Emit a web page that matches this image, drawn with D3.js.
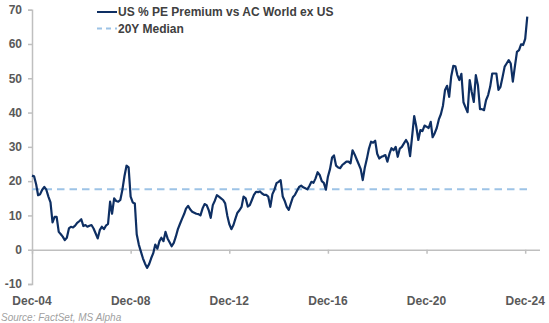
<!DOCTYPE html>
<html>
<head>
<meta charset="utf-8">
<script src="https://cdn.jsdelivr.net/npm/d3@7/dist/d3.min.js"></script>
<style>
  html, body { margin: 0; padding: 0; background: #ffffff; }
  svg { display: block; font-family: Arial, "Liberation Sans", sans-serif; }
</style>
</head>
<body>
<svg id="chart" width="549" height="323"></svg>
<script>
// Monthly US forward PE premium vs MSCI AC World ex US (%), Dec-2004 .. Dec-2024
const firstMonth = new Date(2004, 11, 1);
const premium = [
  21.6, 21.4, 19.0, 15.9, 16.2, 17.5, 18.3, 17.5, 15.5, 13.8,
   8.0,  9.6,  9.6,  5.2,  4.5,  3.8,  2.8,  3.5,  6.2,  6.7,
   6.5,  7.0,  7.8,  8.3,  8.9,  6.9,  7.2,  6.7,  7.0,  7.2,
   6.2,  4.8,  3.3,  5.7,  6.7,  6.0,  7.0,  7.5, 14.0, 10.5,
  15.0, 14.2, 14.0, 14.5, 17.5, 21.5, 24.5, 24.0, 15.5, 13.8,
  13.5,  4.5,  1.5, -0.5, -2.5, -4.0, -5.3, -4.2, -2.5, -1.0,
   1.5,  0.3,  2.5,  3.5,  2.5,  5.2,  3.3,  2.2,  1.0,  2.0,
   3.8,  6.0,  7.5,  9.0, 10.4, 12.0, 12.8, 11.8, 11.1, 10.8,
  10.5, 10.4, 10.0, 12.0, 13.3, 13.0, 11.5,  9.3, 13.0, 14.3,
  15.9, 15.5, 15.0, 14.5, 13.5, 10.0,  7.5,  6.0,  7.2,  9.0,
  10.8, 11.5, 12.5, 15.5, 15.0, 12.6, 13.0, 14.5, 16.0, 16.9,
  16.8, 17.0, 16.4, 16.0, 16.0, 15.5, 12.5, 16.2, 17.5, 19.4,
  19.8, 20.3, 15.5, 14.3, 12.5, 11.6, 13.5, 15.3, 16.0, 17.2,
  18.3, 18.7, 18.2, 17.9, 17.6, 18.6, 19.8, 19.5, 20.8, 22.6,
  21.8, 20.0, 19.5, 17.5, 21.3, 23.5, 26.9, 27.5, 24.5, 24.0,
  23.8, 24.7, 25.2, 25.7, 25.7, 25.2, 29.0, 27.8, 26.3, 25.0,
  23.5, 20.3, 24.0, 26.5, 29.5, 31.5, 31.2, 31.8, 28.0, 26.6,
  27.1, 27.3, 27.6, 25.7, 28.0, 29.6, 29.0, 30.0, 27.1, 29.5,
  30.0, 31.0, 32.0, 31.0, 27.3, 33.0, 39.0, 36.0, 32.0, 34.9,
  34.6, 36.2, 35.9, 35.5, 37.3, 32.8, 34.0, 35.5, 38.0, 39.5,
  42.0, 46.6, 47.8, 44.6, 50.5, 53.6, 53.5, 51.0, 49.5, 51.3,
  43.0, 41.5, 40.1, 49.5, 46.0, 43.1, 50.9, 48.0, 41.0, 41.0,
  40.7, 43.6, 45.1, 47.5, 51.4, 51.4, 51.4, 46.6, 47.5, 50.4,
  53.4, 54.3, 55.3, 54.3, 49.0, 53.4, 57.7, 58.2, 59.9, 59.7,
  61.5, 68.0
];
const medianValue = 17.6;
const yTicks = [-10, 0, 10, 20, 30, 40, 50, 60, 70];
const xTickLabels = ["Dec-04", "Dec-08", "Dec-12", "Dec-16", "Dec-20", "Dec-24"];
const xTickDates = [new Date(2004, 11, 1), new Date(2008, 11, 1), new Date(2012, 11, 1),
                    new Date(2016, 11, 1), new Date(2020, 11, 1), new Date(2024, 11, 1)];
const seriesName = "US % PE Premium vs AC World ex US";
const medianName = "20Y Median";
const sourceNote = "Source: FactSet, MS Alpha";

const data = premium.map((v, i) => ({ date: d3.timeMonth.offset(firstMonth, i), value: v }));
const lastDate = data[data.length - 1].date;

const svg = d3.select("#chart");
const axisGrey = "#bfbfbf";
const labelGrey = "#595959";
const navy = "#0e2f63";

const x = d3.scaleTime()
  .domain([firstMonth, d3.timeMonth.offset(lastDate, 6)])
  .range([32, 539.5]);
const y = d3.scaleLinear().domain([-10, 70]).range([284, 9.7]);

// Y axis
const yAxis = svg.append("g").attr("transform", "translate(32,0)")
  .call(d3.axisLeft(y).tickValues(yTicks).tickSize(4).tickPadding(6).tickFormat(d => String(d)));
yAxis.select(".domain").attr("stroke", axisGrey).attr("stroke-width", 1.5);
yAxis.selectAll(".tick line").attr("stroke", axisGrey).attr("stroke-width", 1.5);
yAxis.selectAll(".tick text")
  .attr("fill", labelGrey).attr("font-size", 12).attr("font-weight", "bold")
  .attr("font-family", "Arial, 'Liberation Sans', sans-serif");

// X axis line drawn at zero, labels placed along the bottom
const xAxis = svg.append("g").attr("transform", `translate(0,${y(0)})`)
  .call(d3.axisBottom(x).tickValues(xTickDates).tickSize(4).tickSizeOuter(0).tickFormat(""));
xAxis.select(".domain").attr("stroke", axisGrey).attr("stroke-width", 1.5);
xAxis.selectAll(".tick line").attr("stroke", axisGrey).attr("stroke-width", 1.5);

svg.append("g").selectAll("text")
  .data(xTickDates)
  .join("text")
  .attr("x", d => x(d))
  .attr("y", 304.5)
  .attr("text-anchor", "middle")
  .attr("fill", labelGrey)
  .attr("font-size", 12)
  .attr("font-weight", "bold")
  .text((d, i) => xTickLabels[i]);

// 20Y median reference line
svg.append("line")
  .attr("x1", x(firstMonth)).attr("x2", x(lastDate))
  .attr("y1", y(medianValue)).attr("y2", y(medianValue))
  .attr("stroke", "#9dc3e6").attr("stroke-width", 2)
  .attr("stroke-dasharray", "7.5,5");

// Premium series
const line = d3.line().x(d => x(d.date)).y(d => y(d.value));
svg.append("path")
  .datum(data)
  .attr("d", line)
  .attr("fill", "none")
  .attr("stroke", navy)
  .attr("stroke-width", 2.2)
  .attr("stroke-linejoin", "round");

// Legend
const legend = svg.append("g");
legend.append("line").attr("x1", 97).attr("x2", 117).attr("y1", 12).attr("y2", 12)
  .attr("stroke", navy).attr("stroke-width", 2);
legend.append("text").attr("x", 118).attr("y", 16.3)
  .attr("fill", "#404040").attr("font-size", 12).attr("font-weight", "bold").text(seriesName);
legend.append("line").attr("x1", 97).attr("x2", 117).attr("y1", 28.5).attr("y2", 28.5)
  .attr("stroke", "#9dc3e6").attr("stroke-width", 2).attr("stroke-dasharray", "5,4");
legend.append("text").attr("x", 118).attr("y", 32.8)
  .attr("fill", "#404040").attr("font-size", 12).attr("font-weight", "bold").text(medianName);

// Source note
svg.append("text").attr("x", 1).attr("y", 320.5)
  .attr("fill", "#a0a0a0").attr("font-size", 10).attr("font-style", "italic")
  .text(sourceNote);
</script>
</body>
</html>
